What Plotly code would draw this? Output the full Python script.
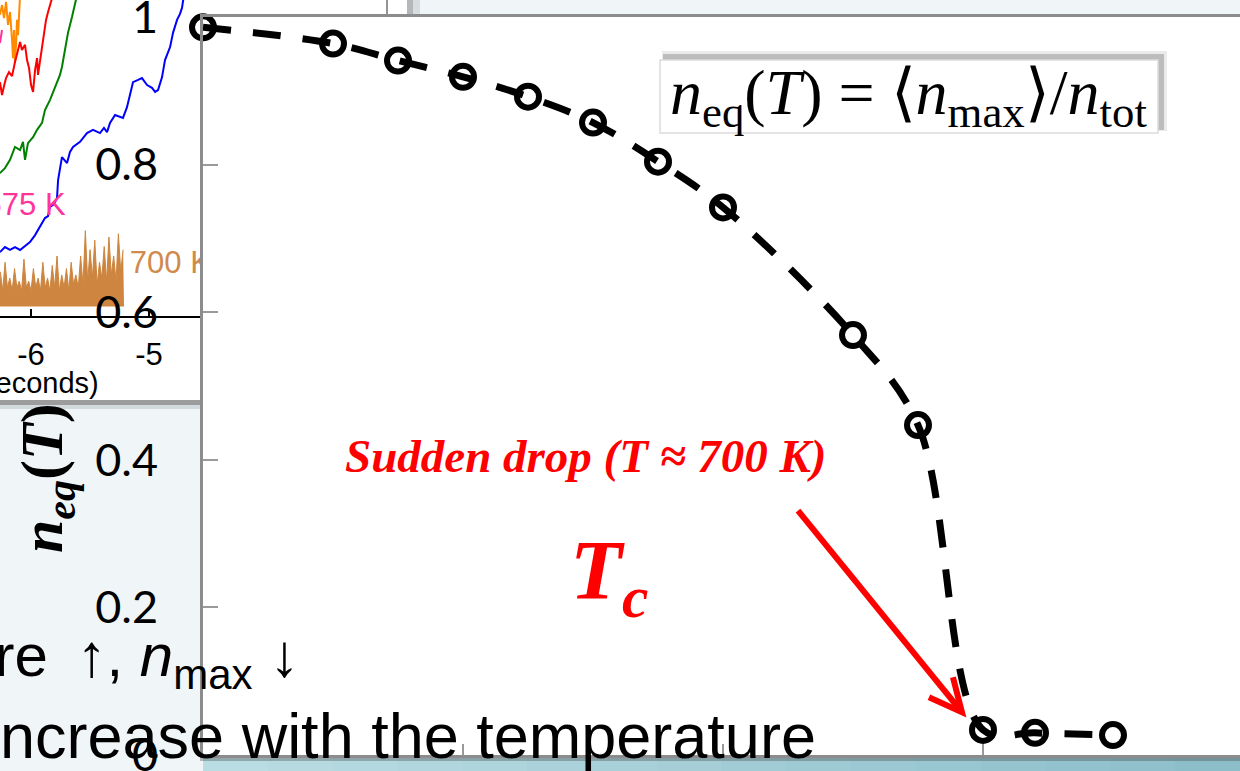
import plotly.graph_objects as go

W, H = 1240, 771

# ---------------- main curve: equilibrium fraction vs temperature ----------------
temperature_K = [100, 200, 250, 300, 350, 400, 450, 500, 600, 650, 700, 740, 800]
n_eq = [0.986, 0.964, 0.941, 0.919, 0.892, 0.857, 0.804, 0.742, 0.569, 0.447, 0.034, 0.030, 0.027]
y_tick_vals = [0, 0.2, 0.4, 0.6, 0.8, 1.0]
y_tick_text = ["0", "0.2", "0.4", "0.6", "0.8", "1"]

# ---------------- background panel: n_max trajectories vs log10(time) ----------------
red_t = [-6.263, -6.246, -6.229, -6.212, -6.187, -6.161, -6.136, -6.110, -6.093, -6.077, -6.051, -6.034,
         -6.017, -6.000, -5.983, -5.966, -5.949, -5.941, -5.924, -5.907, -5.890, -5.873, -5.856, -5.839, -5.814]
red_v = [0.740, 0.699, 0.728, 0.753, 0.772, 0.759, 0.804, 0.848, 0.867, 0.842, 0.858, 0.810,
         0.785, 0.731, 0.709, 0.778, 0.816, 0.763, 0.804, 0.858, 0.899, 0.937, 0.962, 0.984, 1.016]

orange_t = [-6.263, -6.246, -6.229, -6.212, -6.195, -6.178, -6.161, -6.153, -6.144, -6.136, -6.127, -6.119,
            -6.110, -6.102, -6.093]
orange_v = [0.953, 0.984, 0.943, 0.994, 0.921, 0.962, 0.873, 0.816, 0.905, 0.801, 0.858, 0.937,
            0.889, 0.975, 1.016]

pink_t = [-6.263, -6.255, -6.246]
pink_v = [0.864, 0.886, 0.905]

green_t = [-6.263, -6.221, -6.178, -6.136, -6.093, -6.068, -6.051, -6.026, -5.983, -5.949, -5.907, -5.882,
           -5.839, -5.814, -5.780, -5.755, -5.738, -5.712, -5.687, -5.653, -5.627, -5.610]
green_v = [0.452, 0.468, 0.494, 0.535, 0.525, 0.551, 0.494, 0.547, 0.566, 0.589, 0.611, 0.652,
           0.684, 0.706, 0.737, 0.763, 0.788, 0.842, 0.896, 0.946, 0.991, 1.016]

blue_t = [-6.263, -6.221, -6.178, -6.136, -6.093, -6.051, -6.009, -5.966, -5.924, -5.882, -5.856, -5.839,
          -5.805, -5.780, -5.771, -5.738, -5.695, -5.670, -5.644, -5.585, -5.526, -5.475, -5.416, -5.382,
          -5.356, -5.331, -5.288, -5.221, -5.187, -5.161, -5.136, -5.093, -5.060, -5.017, -4.975, -4.949,
          -4.924, -4.890, -4.865, -4.822, -4.797, -4.763, -4.738, -4.721, -4.704]
blue_v = [0.202, 0.218, 0.209, 0.218, 0.209, 0.221, 0.234, 0.256, 0.282, 0.310, 0.316, 0.345,
          0.354, 0.373, 0.430, 0.503, 0.484, 0.519, 0.535, 0.551, 0.579, 0.589, 0.579, 0.595,
          0.582, 0.611, 0.636, 0.627, 0.661, 0.706, 0.740, 0.747, 0.753, 0.731, 0.722, 0.709,
          0.715, 0.756, 0.810, 0.851, 0.896, 0.937, 0.956, 0.975, 1.016]

brown_t = [-6.26, -6.24, -6.22, -6.20, -6.18, -6.16, -6.14, -6.12, -6.10, -6.08, -6.06, -6.04, -6.02,
           -6.00, -5.98, -5.96, -5.94, -5.92, -5.90, -5.88, -5.86, -5.84, -5.82, -5.80, -5.78, -5.76,
           -5.74, -5.72, -5.70, -5.68, -5.66, -5.64, -5.62, -5.60, -5.58, -5.56, -5.54, -5.52, -5.50,
           -5.48, -5.46, -5.44, -5.42, -5.40, -5.38, -5.36, -5.34, -5.32, -5.30, -5.28, -5.26, -5.24, -5.22]
brown_v = [0.14, 0.08, 0.17, 0.09, 0.12, 0.08, 0.15, 0.09, 0.11, 0.08, 0.18, 0.09, 0.11,
           0.08, 0.15, 0.09, 0.12, 0.08, 0.17, 0.09, 0.12, 0.08, 0.16, 0.09, 0.19, 0.08,
           0.13, 0.09, 0.15, 0.08, 0.17, 0.10, 0.13, 0.09, 0.19, 0.10, 0.27, 0.11, 0.21,
           0.12, 0.24, 0.10, 0.17, 0.12, 0.22, 0.11, 0.25, 0.13, 0.19, 0.11, 0.26, 0.14, 0.21]
brown_base_t = [-6.27, -5.212]
brown_base_v = [0.03, 0.03]

inset_labels = ["675 K", "700 K"]
inset_label_t = [-5.707, -5.163]
inset_label_v = [0.345, 0.161]

# ---------------- styling helpers ----------------
def px_x(p):
    return p / W


def px_y(p):
    return 1 - p / H


def mix(c0, c1, f):
    return "rgb(%d,%d,%d)" % tuple(round(a + (b - a) * f) for a, b in zip(c0, c1))


RED = "#ff0000"
BROWN = "#cd853f"
AXIS_GREY = "#8c8c8c"

fig = go.Figure()

# background trajectories (first subplot, drawn underneath the main plot)
fig.add_trace(go.Scatter(x=brown_base_t, y=brown_base_v, mode="lines", line=dict(width=0, color=BROWN),
                         hoverinfo="skip", showlegend=False))
fig.add_trace(go.Scatter(x=brown_t, y=brown_v, mode="lines", line=dict(width=1, color=BROWN),
                         fill="tonexty", fillcolor=BROWN, hoverinfo="skip", showlegend=False))
for tx, vy, col in [(pink_t, pink_v, "#ff3399"), (orange_t, orange_v, "#ff8c00"), (red_t, red_v, "#ff0000"),
                    (green_t, green_v, "#008000"), (blue_t, blue_v, "#0000ff")]:
    fig.add_trace(go.Scatter(x=tx, y=vy, mode="lines", line=dict(width=2, color=col),
                             hoverinfo="skip", showlegend=False))
fig.add_trace(go.Scatter(x=inset_label_t, y=inset_label_v, mode="text", text=inset_labels,
                         textposition=["middle left", "middle right"],
                         textfont=dict(family="Liberation Sans", size=31, color=["#ff3399", "#d08a4c"]),
                         hoverinfo="skip", showlegend=False))

# main curve
fig.add_trace(go.Scatter(
    x=temperature_K, y=n_eq, xaxis="x2", yaxis="y2", mode="lines+markers",
    line=dict(color="black", width=7, dash="28px,22px", shape="spline"),
    marker=dict(symbol="circle", size=22, color="rgba(0,0,0,0)", line=dict(width=6, color="black")),
    cliponaxis=False, hoverinfo="skip", showlegend=False))

shapes = []
# white panel of the background figure
shapes.append(dict(type="rect", xref="paper", yref="paper", x0=0, x1=px_x(407), y0=px_y(403), y1=1,
                   fillcolor="white", line_width=0, layer="below"))
shapes.append(dict(type="line", xref="paper", yref="paper", x0=px_x(387), x1=px_x(387), y0=px_y(16), y1=1,
                   line=dict(color="#707070", width=1.5), layer="below"))
shapes.append(dict(type="rect", xref="paper", yref="paper", x0=px_x(407), x1=px_x(413), y0=px_y(16), y1=1,
                   fillcolor="#b4b8ba", line_width=0, layer="below"))
shapes.append(dict(type="rect", xref="paper", yref="paper", x0=px_x(413), x1=px_x(420), y0=px_y(16), y1=1,
                   fillcolor="#d6dde0", line_width=0, layer="below"))
shapes.append(dict(type="rect", xref="paper", yref="paper", x0=0, x1=px_x(203), y0=px_y(405), y1=px_y(400),
                   fillcolor="#9c9c9c", line_width=0, layer="below"))
shapes.append(dict(type="rect", xref="paper", yref="paper", x0=0, x1=px_x(203), y0=px_y(409), y1=px_y(405),
                   fillcolor="#d3dadd", line_width=0, layer="below"))

# slide strip under the main plot
n_strip = 16
for i in range(n_strip):
    x0 = 203 + (W - 203) * i / n_strip
    x1 = 203 + (W - 203) * (i + 1) / n_strip + 1
    shapes.append(dict(type="rect", xref="paper", yref="paper", x0=px_x(x0), x1=px_x(x1), y0=0, y1=px_y(757),
                       fillcolor=mix((186, 220, 227), (140, 190, 202), i / (n_strip - 1)),
                       line_width=0, layer="below"))
shapes.append(dict(type="rect", xref="paper", yref="paper", x0=px_x(200), x1=1, y0=px_y(761), y1=px_y(756),
                   fillcolor="rgba(70,70,70,0.35)", line_width=0, layer="below"))

# formula box with soft shadow
bx0, bx1, by0, by1 = 660, 1158, 60, 133
shapes.append(dict(type="rect", xref="paper", yref="paper", x0=px_x(bx0 + 2), x1=px_x(bx1 + 9),
                   y0=px_y(by1 - 2), y1=px_y(by0 - 9), fillcolor="rgba(0,0,0,0.08)", line_width=0))
shapes.append(dict(type="rect", xref="paper", yref="paper", x0=px_x(bx0 + 3), x1=px_x(bx1 + 6),
                   y0=px_y(by1 - 3), y1=px_y(by0 - 6), fillcolor="rgba(0,0,0,0.2)", line_width=0))
shapes.append(dict(type="rect", xref="paper", yref="paper", x0=px_x(bx0), x1=px_x(bx1),
                   y0=px_y(by1), y1=px_y(by0), fillcolor="white", line=dict(color="#dcdcdc", width=1.5)))

# arrow pointing at the drop
tail_T, tail_n = 557.7, 0.331
tip_T, tip_n = 683.8, 0.058
shapes.append(dict(type="line", xref="x2", yref="y2", x0=tail_T, y0=tail_n, x1=tip_T, y1=tip_n,
                   line=dict(color=RED, width=6)))
shapes.append(dict(type="path", xref="x2", yref="y2", xsizemode="pixel", ysizemode="pixel",
                   xanchor=tip_T, yanchor=tip_n, path="M -9,35 L 0,0 L -33,15",
                   line=dict(color=RED, width=6)))

annotations = [
    # background figure x-axis title
    dict(xref="paper", yref="paper", x=px_x(101), y=px_y(383), xanchor="right", yanchor="middle",
         text="Time (seconds)", showarrow=False, font=dict(family="Liberation Sans", size=29, color="black")),
    # main y-axis title
    dict(xref="paper", yref="paper", x=px_x(46), y=px_y(478), xanchor="center", yanchor="middle",
         text="<b><i>n<sub>eq</sub></i>(<i>T</i>)</b>", textangle=-90, showarrow=False,
         font=dict(family="Liberation Serif", size=60, color="black")),
    # formula
    dict(xref="paper", yref="paper", x=px_x(908), y=px_y(97), xanchor="center", yanchor="middle",
         text="<i>n</i><sub>eq</sub>(<i>T</i>) = ⟨<i>n</i><sub>max</sub>⟩/<i>n</i><sub>tot</sub>",
         showarrow=False, font=dict(family="Liberation Serif", size=64, color="black")),
    # drop annotation
    dict(xref="paper", yref="paper", x=px_x(585), y=px_y(456), xanchor="center", yanchor="middle",
         text="<b><i>Sudden drop (T ≈ 700 K)</i></b>", showarrow=False,
         font=dict(family="Liberation Serif", size=47, color=RED)),
    dict(xref="paper", yref="paper", x=px_x(609), y=px_y(576), xanchor="center", yanchor="middle",
         text="<b><i>T<sub>c</sub></i></b>", showarrow=False,
         font=dict(family="Liberation Serif", size=85, color=RED)),
    # slide text lines
    dict(xref="paper", yref="paper", x=px_x(301), y=px_y(660), xanchor="right", yanchor="middle",
         text="Temperature\u00a0\u2009↑, <i>n</i><sub>max</sub> ↓", showarrow=False,
         font=dict(family="Liberation Sans", size=60, color="black")),
    dict(xref="paper", yref="paper", x=px_x(818), y=px_y(736), xanchor="right", yanchor="middle",
         text="increase with the temperature", showarrow=False,
         font=dict(family="Liberation Sans", size=63, color="black")),
]

fig.update_layout(
    width=W, height=H, autosize=False,
    margin=dict(l=0, r=0, t=0, b=0, pad=0, autoexpand=False),
    paper_bgcolor="#f0f5f7", plot_bgcolor="white",
    showlegend=False,
    xaxis=dict(domain=[0, px_x(203)], range=[-6.263, -4.543], anchor="y", automargin=False,
               showline=True, linecolor="black", linewidth=1.5,
               ticks="inside", ticklen=7, tickwidth=1.5, tickcolor="black",
               tickvals=[-6, -5], ticktext=["-6", "-5"], ticklabelstandoff=10,
               tickfont=dict(family="Liberation Sans", size=31, color="black"),
               showgrid=False, zeroline=False, fixedrange=True),
    yaxis=dict(domain=[px_y(316), 1], range=[0, 1], anchor="x", visible=False, automargin=False,
               fixedrange=True),
    xaxis2=dict(domain=[px_x(203), 1], range=[100, 100 + (W - 203) / 1.3], anchor="y2", automargin=False,
                showline=True, mirror=True, linecolor=AXIS_GREY, linewidth=3,
                ticks="inside", tick0=100, dtick=200, ticklen=11, tickwidth=2, tickcolor="#9a9a9a",
                showticklabels=False, showgrid=False, zeroline=False, fixedrange=True),
    yaxis2=dict(domain=[px_y(755), px_y(17)], range=[0, 1], anchor="x2", automargin=False,
                showline=True, linecolor=AXIS_GREY, linewidth=3,
                ticks="inside", tickvals=y_tick_vals, ticktext=y_tick_text,
                ticklen=15, tickwidth=2, tickcolor="#9a9a9a", ticklabelstandoff=33,
                ticklabeloverflow="allow",
                tickfont=dict(family="Lato", size=45, color="black"),
                showgrid=False, zeroline=False, fixedrange=True),
    shapes=shapes,
    annotations=annotations,
)

fig.write_html("out.html", config={"displayModeBar": False, "staticPlot": True})
